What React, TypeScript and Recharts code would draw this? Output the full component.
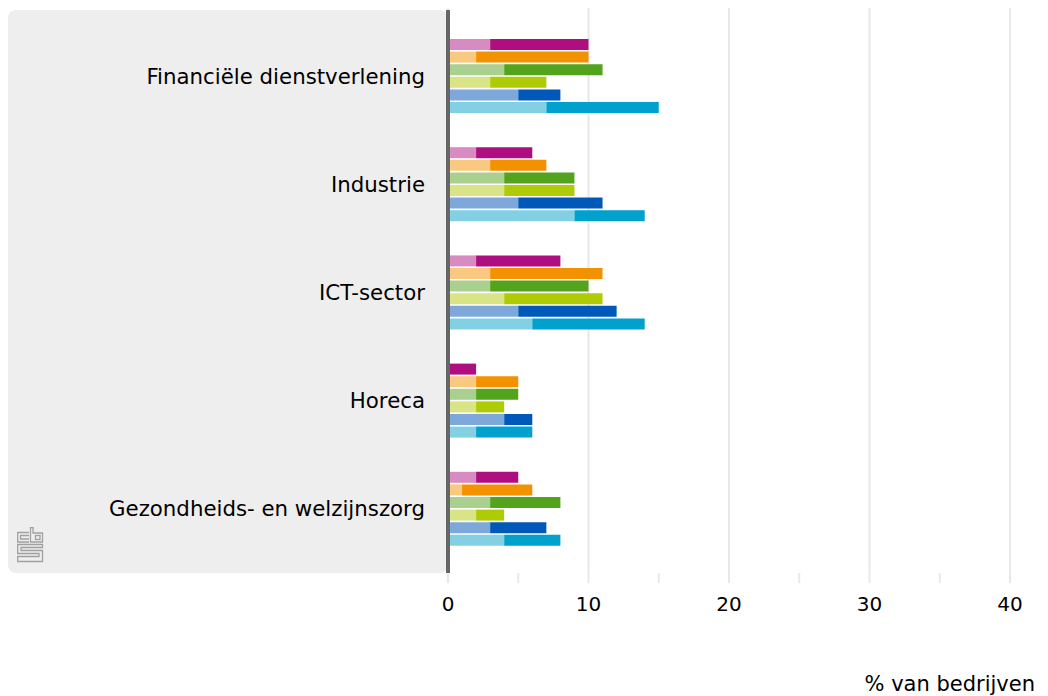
import { BarChart, Bar, XAxis, YAxis, CartesianGrid } from "recharts";

const categories = [
  "Financiële dienstverlening",
  "Industrie",
  "ICT-sector",
  "Horeca",
  "Gezondheids- en welzijnszorg",
];

// each bar = light part + dark part (% van bedrijven)
const paarsLicht = [3, 2, 2, 0, 2];
const paarsDonker = [7, 4, 6, 2, 3];
const oranjeLicht = [2, 3, 3, 2, 1];
const oranjeDonker = [8, 4, 8, 3, 5];
const groenLicht = [4, 4, 3, 2, 3];
const groenDonker = [7, 5, 7, 3, 5];
const geelgroenLicht = [3, 4, 4, 2, 2];
const geelgroenDonker = [4, 5, 7, 2, 2];
const blauwLicht = [5, 5, 5, 4, 3];
const blauwDonker = [3, 6, 7, 2, 4];
const lichtblauwLicht = [7, 9, 6, 2, 4];
const lichtblauwDonker = [8, 5, 8, 4, 4];

const xTicks = [0, 5, 10, 15, 20, 25, 30, 35, 40];

const series = [
  { light: paarsLicht, dark: paarsDonker, cl: "#d78bc1", cd: "#af0e80" },
  { light: oranjeLicht, dark: oranjeDonker, cl: "#f9c982", cd: "#f39200" },
  { light: groenLicht, dark: groenDonker, cl: "#a9d08e", cd: "#53a31d" },
  { light: geelgroenLicht, dark: geelgroenDonker, cl: "#d9e486", cd: "#afcb05" },
  { light: blauwLicht, dark: blauwDonker, cl: "#7fa8da", cd: "#0058b8" },
  { light: lichtblauwLicht, dark: lichtblauwDonker, cl: "#83d0e5", cd: "#00a1cd" },
];

const data = categories.map((name, c) => {
  const row: Record<string, string | number> = { name };
  series.forEach((s, i) => {
    row[`l${i}`] = s.light[c];
    row[`d${i}`] = s.dark[c];
  });
  return row;
});

const W = 1032;
const H = 688;

function gridLine(p: any) {
  if (p.index % 2 === 1) return <g key={p.key} />;
  return (
    <line
      key={p.key}
      x1={p.x1}
      x2={p.x2}
      y1={p.y1 - 2}
      y2={p.y2}
      stroke="#e8e8e8"
      strokeWidth={2}
    />
  );
}

function unitLabel(props: any) {
  const vb = props.viewBox;
  return (
    <text
      x={vb.x + vb.width + 25}
      y={vb.y + vb.height - 5}
      textAnchor="end"
      fontSize={21}
      fill="#000"
    >
      % van bedrijven
    </text>
  );
}

export default function App() {
  return (
    <div
      style={{
        position: "relative",
        width: W,
        height: H,
        fontFamily: '"DejaVu Sans", sans-serif',
      }}
    >
      <div
        style={{
          position: "absolute",
          left: 0,
          top: 2,
          width: 440,
          height: 563,
          background: "#eeeeee",
          borderRadius: 8,
        }}
      >
        {/* cbs logo */}
        <svg
          width={28}
          height={37}
          style={{ position: "absolute", left: 9, top: 517 }}
          fill="none"
          stroke="#a0a0a0"
          strokeWidth={1.3}
        >
          <path d="M12 5.5 H0.7 V15 H12 M12 8.5 H3.5 V12 H12" />
          <path d="M13.5 0.7 V15 H25.5 V6 H16 V0.7 Z" />
          <rect x={18.5} y={8.5} width={4.5} height={4} />
          <path d="M25.5 17.5 H0.7 V26.5 H22 V29.5 H0.7 V34.5 H25.5 V23.5 H4 V20.5 H25.5 Z" />
        </svg>
      </div>
      <BarChart
        width={W}
        height={H}
        data={data}
        layout="vertical"
        margin={{ top: 2, right: 30, bottom: 0, left: 0 }}
        barSize={11}
        barGap={1.6}
        style={{ position: "relative" }}
      >
        <CartesianGrid horizontal={false} vertical={gridLine} />
        <XAxis
          type="number"
          domain={[0, 40]}
          ticks={xTicks}
          interval={0}
          tickFormatter={(v: number) => (v % 10 === 0 ? String(v) : "")}
          height={123}
          axisLine={false}
          tickLine={{ stroke: "#e8e8e8", strokeWidth: 2 }}
          tickSize={10}
          tickMargin={14}
          tick={{ fill: "#000", fontSize: 20 }}
          label={unitLabel}
        />
        <YAxis
          type="category"
          dataKey="name"
          width={440}
          interval={0}
          tickLine={false}
          tickSize={0}
          tickMargin={23}
          axisLine={{ stroke: "#666", strokeWidth: 4 }}
          tick={{ fill: "#000", fontSize: 21.3 }}
          padding={{ top: 12, bottom: 10 }}
        />
        {series.map((s, i) => [
          <Bar
            key={`l${i}`}
            dataKey={`l${i}`}
            stackId={`s${i}`}
            fill={s.cl}
            isAnimationActive={false}
          />,
          <Bar
            key={`d${i}`}
            dataKey={`d${i}`}
            stackId={`s${i}`}
            fill={s.cd}
            isAnimationActive={false}
          />,
        ])}
      </BarChart>
    </div>
  );
}
